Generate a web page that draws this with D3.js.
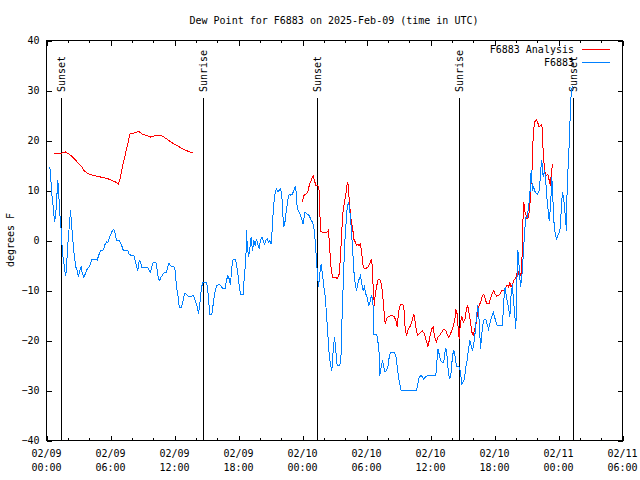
<!DOCTYPE html>
<html>
<head>
<meta charset="utf-8">
<script src="https://cdn.jsdelivr.net/npm/d3@7"></script>
<style>
  html, body { margin: 0; padding: 0; background: #fff; }
  svg { display: block; }
  text { font-family: "DejaVu Sans Mono", "Liberation Mono", monospace; font-size: 10px; fill: #000; }
</style>
</head>
<body>
<svg id="chart" width="640" height="480"></svg>
<script>
// ---- Data (hours after 2025-02-09 00:00 UTC, degrees F) ----
const startUTC = Date.UTC(2025, 1, 9, 0, 0);
const endHours = 54;

const analysisHours = [0.75,1.15,1.47,1.78,2.09,2.41,2.72,3.03,3.35,3.50,3.68,3.97,4.43,5.06,5.69,6.16,6.47,6.75,6.94,7.12,7.25,7.62,7.81,8.18,8.65,8.97,9.37,9.75,10.22,10.62,11.00,11.47,11.93,12.40,12.87,13.34,13.75,
  null,
  24.00,24.12,24.31,24.50,24.63,24.81,25.00,25.12,25.25,25.43,25.56,25.62,25.69,25.81,26.31,26.44,26.56,26.69,26.81,27.12,27.25,27.44,27.56,27.68,27.81,27.94,28.06,28.19,28.25,28.31,28.44,28.56,28.69,28.81,28.94,29.06,29.19,29.31,29.44,29.56,29.69,29.88,30.12,30.31,30.44,30.56,30.63,30.75,30.81,30.94,31.06,31.19,31.31,31.44,31.56,31.69,31.75,31.87,32.06,32.37,32.62,32.75,32.88,33.00,33.19,33.37,33.50,33.63,33.75,33.87,34.06,34.25,34.44,34.56,34.69,34.81,34.94,35.13,35.25,35.44,35.56,35.69,35.75,35.88,36.00,36.12,36.25,36.31,36.44,36.56,36.69,36.87,37.06,37.25,37.44,37.56,37.69,37.81,37.94,38.06,38.19,38.31,38.37,38.50,38.62,38.69,38.81,38.94,39.07,39.25,39.37,39.50,39.63,39.75,39.87,40.00,40.12,40.25,40.38,40.50,40.62,40.75,40.87,41.00,41.13,41.25,41.50,41.62,41.81,41.94,42.06,42.19,42.44,42.56,42.69,42.81,42.94,43.06,43.19,43.31,43.44,43.56,43.69,43.81,43.94,44.06,44.19,44.25,44.37,44.50,44.56,44.62,44.69,44.75,44.81,44.94,45.06,45.19,45.31,45.44,45.56,45.62,45.75,45.94,46.06,46.19,46.31,46.44,46.56,46.62,46.75,46.87,47.00,47.13,47.25,47.31,47.44];
const analysisValues = [17.3,17.5,17.5,17.7,17.3,16.8,16.1,15.3,14.6,14.0,13.7,13.3,13.0,12.7,12.4,12.0,11.7,11.3,12.7,14.7,16.0,19.3,21.3,21.5,21.8,21.3,21.0,20.7,21.0,21.1,20.7,20.0,19.3,18.8,18.2,17.8,17.5,
  null,
  7.7,9.0,9.3,9.7,11.0,12.0,13.0,12.0,11.0,11.0,10.0,6.0,1.9,1.7,1.7,2.1,-2.0,-5.7,-7.3,-7.3,-7.7,-6.7,-3.3,2.0,6.0,7.7,9.3,11.3,11.7,10.0,6.7,4.0,2.7,0.3,-0.3,-1.0,-0.7,-1.0,-0.7,-2.7,-5.3,-5.7,-5.3,-4.7,-3.7,-5.3,-10.0,-13.0,-11.0,-9.3,-8.0,-7.7,-8.0,-9.3,-12.0,-15.3,-16.7,-15.7,-15.2,-15.0,-15.3,-16.0,-17.3,-14.3,-12.7,-12.7,-13.3,-17.7,-19.0,-18.0,-17.3,-16.3,-14.7,-16.3,-18.3,-19.0,-18.7,-18.3,-18.1,-18.7,-19.7,-20.7,-21.3,-20.0,-18.7,-17.7,-17.3,-18.3,-19.7,-20.3,-19.3,-19.0,-18.3,-17.7,-18.0,-18.7,-19.3,-19.0,-18.3,-17.7,-16.7,-15.3,-13.7,-14.7,-18.3,-19.7,-16.3,-15.3,-16.3,-15.7,-13.7,-13.0,-14.7,-16.3,-18.3,-19.0,-18.0,-17.0,-15.0,-13.3,-12.7,-12.0,-11.0,-10.7,-11.7,-12.5,-12.5,-11.7,-10.5,-10.0,-10.7,-11.1,-10.9,-10.6,-10.0,-9.9,-10.0,-9.3,-8.9,-9.3,-8.5,-9.3,-8.7,-8.0,-7.7,-7.0,-5.9,-6.5,-7.3,-6.5,-5.3,0.7,5.3,7.7,6.0,5.3,4.3,4.7,6.7,12.0,15.3,20.7,23.7,24.1,23.5,22.7,23.0,23.3,18.0,16.0,13.3,13.0,13.3,12.0,11.0,13.0,15.3];

const stationHours = [0.31,0.38,0.50,0.63,0.75,0.87,1.06,1.15,1.25,1.38,1.50,1.62,1.69,1.81,1.87,2.00,2.13,2.25,2.37,2.50,2.62,2.75,2.88,3.00,3.12,3.25,3.37,3.50,3.63,3.82,4.00,4.12,4.25,4.43,4.75,4.94,5.06,5.32,5.50,5.62,5.75,5.93,6.12,6.31,6.44,6.56,6.82,7.00,7.19,7.43,7.62,7.75,7.94,8.18,8.32,8.44,8.56,8.69,8.81,8.93,9.31,9.50,9.63,9.75,9.87,10.00,10.25,10.38,10.50,10.62,10.75,10.94,11.06,11.25,11.37,11.50,11.62,11.75,11.93,12.06,12.19,12.31,12.44,12.63,12.75,12.87,13.00,13.19,13.38,13.57,13.75,13.87,14.00,14.13,14.25,14.37,14.50,14.62,14.75,15.00,15.12,15.25,15.31,15.50,15.63,15.75,15.94,16.25,16.31,16.50,16.75,16.87,17.00,17.13,17.25,17.37,17.50,17.69,17.81,17.94,18.07,18.19,18.44,18.56,18.69,18.75,18.81,18.94,19.06,19.19,19.31,19.44,19.56,19.69,19.81,19.94,20.06,20.19,20.31,20.44,20.56,20.69,20.81,20.94,21.06,21.12,21.19,21.31,21.44,21.56,21.69,21.81,21.94,22.06,22.12,22.25,22.38,22.50,22.62,22.75,22.87,23.06,23.18,23.31,23.44,23.50,23.69,23.81,23.93,24.06,24.19,24.25,24.44,24.63,24.81,24.94,25.06,25.19,25.25,25.31,25.38,25.50,25.62,25.75,25.87,26.00,26.13,26.25,26.37,26.50,26.62,26.75,26.87,27.00,27.12,27.25,27.50,27.62,27.68,27.81,27.94,28.06,28.19,28.31,28.44,28.56,28.69,28.81,28.94,29.06,29.19,29.31,29.44,29.56,29.69,29.81,29.93,30.06,30.19,30.31,30.37,30.50,30.63,30.69,30.94,31.06,31.19,31.25,31.38,31.50,31.62,31.75,31.87,32.00,32.13,32.25,32.56,32.75,32.88,33.00,33.12,33.25,34.12,34.69,34.81,34.94,35.13,35.25,35.37,35.56,35.81,36.50,36.56,36.69,36.81,36.94,37.06,37.25,37.38,37.44,37.56,37.69,37.81,37.94,38.06,38.19,38.31,38.44,38.69,38.81,38.94,39.07,39.19,39.31,39.44,39.56,39.69,39.81,39.94,40.06,40.19,40.31,40.43,40.56,40.69,40.81,40.94,41.06,41.18,41.31,41.44,41.56,41.62,41.88,42.06,42.25,42.75,42.87,43.00,43.12,43.31,43.44,43.56,43.69,43.75,43.87,44.00,44.06,44.13,44.19,44.31,44.44,44.56,44.62,44.69,44.81,44.94,45.06,45.19,45.31,45.37,45.44,45.56,45.69,45.81,46.00,46.19,46.25,46.38,46.44,46.56,46.69,46.81,46.87,47.00,47.13,47.25,47.31,47.37,47.44,47.56,47.69,47.81,47.94,48.07,48.19,48.25,48.37,48.50,48.62,48.75,48.81,48.94,49.06,49.12,49.25,49.31];
const stationValues = [14.8,13.0,9.3,6.7,3.7,5.3,12.0,9.3,5.4,2.0,-2.7,-4.0,-6.0,-7.0,-5.3,-0.7,2.7,6.0,2.7,-0.7,-3.3,-5.3,-6.0,-7.3,-6.0,-5.3,-6.7,-7.3,-6.7,-5.7,-5.3,-4.7,-3.7,-3.7,-3.9,-2.7,-2.0,-1.9,-0.7,-0.3,-0.5,0.7,1.7,2.3,1.3,0.1,0.0,-0.7,-1.9,-2.0,-2.0,-2.7,-3.0,-3.0,-4.0,-5.3,-6.0,-4.0,-4.3,-5.3,-5.3,-5.5,-6.0,-6.3,-5.3,-4.3,-4.3,-6.0,-7.7,-8.0,-7.3,-6.7,-6.3,-6.3,-5.3,-4.5,-5.0,-5.3,-5.2,-6.0,-9.3,-10.7,-13.3,-13.3,-12.7,-11.3,-10.5,-11.0,-11.2,-11.2,-11.0,-11.5,-12.3,-13.3,-14.7,-12.7,-10.0,-8.5,-8.3,-8.3,-10.0,-13.3,-14.7,-14.7,-12.7,-10.7,-9.0,-8.8,-9.0,-9.5,-9.5,-8.0,-7.0,-7.7,-8.8,-5.3,-3.7,-3.7,-4.7,-6.7,-9.0,-10.7,-10.7,-6.7,-4.0,2.0,-0.7,-3.3,-1.7,0.7,-2.0,0.0,-1.0,0.3,-0.7,-1.7,0.0,0.7,0.0,-0.7,0.0,0.3,-0.3,0.0,-0.7,0.7,3.7,7.3,9.7,10.3,9.7,10.0,10.3,9.3,6.0,2.7,4.0,6.3,8.0,9.3,9.1,9.3,10.0,10.7,9.3,6.3,5.7,5.0,4.3,3.3,5.3,5.7,5.3,5.0,4.0,3.7,2.7,0.0,-2.0,-4.0,-6.0,-9.3,-6.7,-4.7,-6.7,-9.3,-11.3,-14.7,-18.7,-22.7,-24.7,-26.0,-22.3,-19.3,-22.0,-25.0,-25.0,-22.7,-17.3,-9.3,-1.3,2.7,6.7,7.7,6.0,2.7,-1.3,-6.0,-8.7,-10.0,-8.7,-7.7,-7.0,-8.7,-10.0,-9.3,-10.7,-11.3,-13.0,-12.7,-11.7,-11.0,-13.3,-18.7,-18.7,-20.0,-22.7,-27.0,-25.3,-24.0,-25.3,-26.3,-26.0,-25.3,-23.3,-22.3,-22.3,-23.0,-25.3,-27.3,-28.7,-30.1,-30.0,-30.0,-28.7,-27.3,-27.0,-27.3,-27.7,-27.2,-27.0,-27.0,-25.3,-21.7,-22.7,-24.0,-24.3,-24.3,-22.0,-21.5,-23.3,-26.7,-27.7,-26.3,-23.0,-22.0,-23.3,-25.2,-25.3,-26.3,-28.7,-28.3,-27.7,-25.3,-24.0,-21.7,-20.0,-21.0,-22.0,-20.7,-18.3,-15.3,-13.0,-16.0,-21.7,-18.7,-16.3,-15.7,-15.7,-16.7,-17.7,-16.7,-16.0,-14.3,-15.7,-17.0,-17.0,-12.0,-9.3,-11.3,-13.3,-15.3,-10.7,-8.7,-11.3,-14.0,-17.7,-12.0,-5.3,-2.0,-5.3,-9.3,-7.3,-5.3,-3.3,1.3,4.7,4.7,6.7,8.7,12.0,14.0,10.0,10.7,9.7,9.2,10.0,11.3,15.3,16.0,12.7,14.0,12.0,9.3,6.7,4.0,6.7,9.5,12.7,10.0,4.0,1.3,0.3,1.0,1.7,2.7,6.0,9.7,8.0,5.3,2.0,10.7,16.3,22.0,27.7,30.3,30.8];

const sunLabels = ["Sunset", "Sunrise", "Sunset", "Sunrise", "Sunset"];
const sunHours  = [1.38, 14.69, 25.38, 38.65, 49.34];

const yTicks = [-40, -30, -20, -10, 0, 10, 20, 30, 40];
const xMajorHours = [0, 6, 12, 18, 24, 30, 36, 42, 48, 54];
const xDateLabels = ["02/09", "02/09", "02/09", "02/09", "02/10", "02/10", "02/10", "02/10", "02/11", "02/11"];
const xTimeLabels = ["00:00", "06:00", "12:00", "18:00", "00:00", "06:00", "12:00", "18:00", "00:00", "06:00"];

const seriesNames = ["F6883 Analysis", "F6883"];
const seriesColors = ["#ff0000", "#0080ff"];
const titleText = "Dew Point for F6883 on 2025-Feb-09 (time in UTC)";
const yLabel = "degrees F";

// ---- Drawing ----
const toDate = h => new Date(startUTC + h * 3600e3);
const L = 46.5, R = 622.5, T = 40.5, B = 440.5;
const svg = d3.select("#chart");

const x = d3.scaleUtc().domain([toDate(0), toDate(endHours)]).range([L, R]);
const y = d3.scaleLinear().domain([-40, 40]).range([B, T]);

const majorDates = xMajorHours.map(toDate);
const minorDates = d3.range(0, endHours + 1, 2).filter(h => h % 6 !== 0).map(toDate);

function styleAxis(g) {
  g.select(".domain").remove();
  g.selectAll("line").attr("stroke", "#000").attr("shape-rendering", "crispEdges");
}

// bottom/top axes (major + minor, inward)
svg.append("g").attr("transform", `translate(0,${B})`)
  .call(d3.axisBottom(x).tickValues(majorDates).tickSize(-5).tickFormat(""))
  .call(styleAxis);
svg.append("g").attr("transform", `translate(0,${B})`)
  .call(d3.axisBottom(x).tickValues(minorDates).tickSize(-2.5).tickFormat(""))
  .call(styleAxis);
svg.append("g").attr("transform", `translate(0,${T})`)
  .call(d3.axisTop(x).tickValues(majorDates).tickSize(-5).tickFormat(""))
  .call(styleAxis);
svg.append("g").attr("transform", `translate(0,${T})`)
  .call(d3.axisTop(x).tickValues(minorDates).tickSize(-2.5).tickFormat(""))
  .call(styleAxis);

// left/right axes
const leftAx = svg.append("g").attr("transform", `translate(${L},0)`)
  .call(d3.axisLeft(y).tickValues(yTicks).tickSize(-5).tickPadding(7).tickFormat(d3.format("d")))
  .call(styleAxis);
leftAx.selectAll("text").attr("font-family", null).attr("font-size", null).style("fill", "#000");
svg.append("g").attr("transform", `translate(${R},0)`)
  .call(d3.axisRight(y).tickValues(yTicks).tickSize(-5).tickFormat(""))
  .call(styleAxis);

// x tick labels (two lines)
const xl = svg.append("g").selectAll("text").data(majorDates).join("text")
  .attr("x", d => x(d)).attr("text-anchor", "middle");
xl.append("tspan").attr("x", d => x(d)).attr("y", 457).text((d, i) => xDateLabels[i]);
xl.append("tspan").attr("x", d => x(d)).attr("y", 471).text((d, i) => xTimeLabels[i]);

// border
svg.append("rect").attr("x", L).attr("y", T).attr("width", R - L).attr("height", B - T)
  .attr("fill", "none").attr("stroke", "#000").attr("shape-rendering", "crispEdges");

// sunrise / sunset markers
const sun = svg.append("g");
sun.selectAll("line").data(sunHours).join("line")
  .attr("x1", d => Math.round(x(toDate(d))) + 0.5).attr("x2", d => Math.round(x(toDate(d))) + 0.5)
  .attr("y1", 98).attr("y2", B)
  .attr("stroke", "#000").attr("shape-rendering", "crispEdges");

// series lines
const line = d3.line()
  .defined(d => d[0] !== null && d[1] !== null)
  .x(d => x(toDate(d[0]))).y(d => y(d[1]));
const analysisData = analysisHours.map((h, i) => [h, analysisValues[i]]);
const stationData = stationHours.map((h, i) => [h, stationValues[i]]);

svg.append("path").datum(analysisData).attr("d", line)
  .attr("fill", "none").attr("stroke", seriesColors[0]).attr("stroke-width", 1)
  .attr("shape-rendering", "crispEdges");
svg.append("path").datum(stationData).attr("d", line)
  .attr("fill", "none").attr("stroke", seriesColors[1]).attr("stroke-width", 1)
  .attr("shape-rendering", "crispEdges");

// sun labels
sun.selectAll("text").data(sunHours).join("text")
  .attr("transform", d => `translate(${Math.round(x(toDate(d))) + 0.5},92) rotate(-90)`)
  .attr("text-anchor", "start").attr("dy", "0.35em")
  .text((d, i) => sunLabels[i]);

// legend
const leg = svg.append("g");
seriesNames.forEach((name, i) => {
  const yy = 49.5 + i * 13;
  leg.append("text").attr("x", 574).attr("y", yy).attr("dy", "0.35em")
    .attr("text-anchor", "end").text(name);
  leg.append("line").attr("x1", 582).attr("x2", 610).attr("y1", yy).attr("y2", yy)
    .attr("stroke", seriesColors[i]).attr("shape-rendering", "crispEdges");
});

// title and y label
svg.append("text").attr("x", 334).attr("y", 23.5).attr("text-anchor", "middle").text(titleText);
svg.append("text").attr("transform", "translate(14,240) rotate(-90)")
  .attr("text-anchor", "middle").text(yLabel);
</script>
</body>
</html>
